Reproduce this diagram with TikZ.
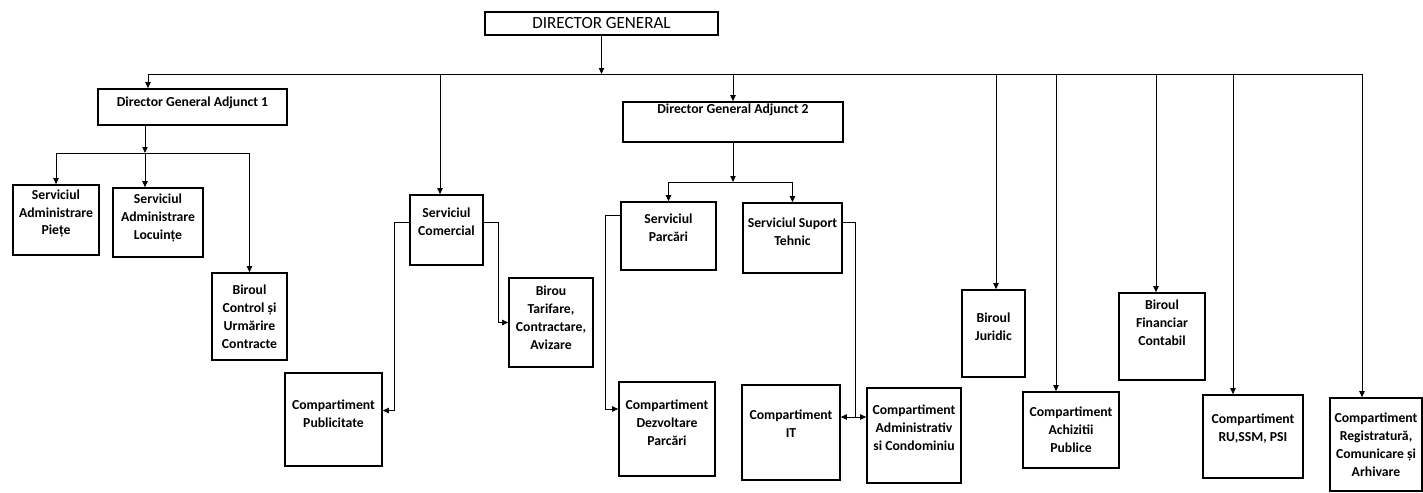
\documentclass[tikz,border=0pt]{standalone}
\usepackage{fontspec}
\setmainfont{Carlito}
\usetikzlibrary{arrows.meta}
\newlength\unitpx
\setlength\unitpx{0.02cm}
\newcommand\unitpad[1]{\endgraf\vspace*{#1}}
\begin{document}
\begin{tikzpicture}[x=0.02cm, y=-0.02cm,
    unit/.style={draw, line width=0.9pt, inner sep=0pt, align=flush center,
      font=\bfseries\fontsize{7.8}{10.2}\selectfont},
    dims/.style n args={3}{text width=#1\unitpx, minimum height=#2\unitpx,
      execute at end node={\unitpad{#3\unitpx}}},
    wire/.style={line width=0.55pt},
    link/.style={wire, -{Triangle[length=3.4pt,width=3pt]}}]
  \useasboundingbox (0,0) rectangle (1423,493);
  \draw
    (601.5,23.5) node[unit, dims={233}{23}{0}, font=\fontsize{9.7}{12}\selectfont] (dg) {DIRECTOR GENERAL}
    (192.5,107) node[unit, dims={189}{36}{8}] (dga1) {Director General Adjunct 1}
    (733,122) node[unit, dims={220}{40}{24}] (dga2) {Director General Adjunct 2}
    (56,220) node[unit, dims={86}{70}{13}] (piete) {Serviciul\\Administrare\\Piețe}
    (158,222.5) node[unit, dims={90}{69}{9}] (locuinte) {Serviciul\\Administrare\\Locuințe}
    (249.5,316.5) node[unit, dims={75}{87}{0}] (control) {Biroul\\Control și\\Urmărire\\Contracte}
    (446.5,230) node[unit, dims={73}{70}{16}] (comercial) {Serviciul\\Comercial}
    (551,322.5) node[unit, dims={84}{89}{10}] (tarifare) {Birou\\Tarifare,\\Contractare,\\Avizare}
    (333.5,419.5) node[unit, dims={97}{93}{11}] (publicitate) {Compartiment\\Publicitate}
    (668.5,236) node[unit, dims={95}{68}{16}] (parcari) {Serviciul\\Parcări}
    (792.5,238) node[unit, dims={99}{70}{12}] (suport) {Serviciul Suport\\Tehnic}
    (667,429) node[unit, dims={96}{94}{12}] (dezvoltare) {Compartiment\\Dezvoltare\\Parcări}
    (791,432.5) node[unit, dims={98}{95}{17}] (it) {Compartiment\\IT}
    (914,435.5) node[unit, dims={94}{95}{15}] (administrativ) {Compartiment\\Administrativ\\si Condominiu}
    (993.5,333.5) node[unit, dims={63}{87}{13}] (juridic) {Biroul\\Juridic}
    (1071,430) node[unit, dims={96}{76}{0}] (achizitii) {Compartiment\\Achizitii\\Publice}
    (1162,336.5) node[unit, dims={86}{87}{27}] (financiar) {Biroul\\Financiar\\Contabil}
    (1253,436.5) node[unit, dims={100}{83}{15}] (ru) {Compartiment\\RU,SSM, PSI}
    (1376,444.5) node[unit, dims={92}{93}{0}] (registratura) {Compartiment\\Registratură,\\Comunicare și\\Arhivare};
  \path
    (148,74) coordinate (tdga1)
    (440,74) coordinate (tcom)
    (733,74) coordinate (tdga2)
    (996,74) coordinate (tjur)
    (1056,74) coordinate (tach)
    (1156,74) coordinate (tfin)
    (1233,74) coordinate (tru)
    (1362,74) coordinate (treg)
    (145,153) coordinate (j1)
    (733,182) coordinate (j2)
    (855,417) coordinate (j3);
  \begin{scope}[wire]
    \draw (tdga1) -- (treg);
    \draw (j1 -| piete.north) -- (j1 -| control.north);
    \draw (j2 -| parcari.north) -- (j2 -| suport.north);
    \draw ([yshift=16\unitpx]suport.east) -| (j3);
  \end{scope}
  \begin{scope}[link]
    \draw (dg.south) -- (dg.south |- tdga1);
    \draw (tdga1) -- (tdga1 |- dga1.north);
    \draw (tcom) -- (tcom |- comercial.north);
    \draw (tdga2) -- (tdga2 |- dga2.north);
    \draw (tjur) -- (tjur |- juridic.north);
    \draw (tach) -- (tach |- achizitii.north);
    \draw (tfin) -- (tfin |- financiar.north);
    \draw (tru) -- (tru |- ru.north);
    \draw (treg) -- (treg |- registratura.north);
    \draw (dga1.south -| j1) -- (j1);
    \draw (j1 -| piete.north) -- (piete.north);
    \draw (j1) -- (j1 |- locuinte.north);
    \draw (j1 -| control.north) -- (control.north);
    \draw (dga2.south) -- (j2);
    \draw (j2 -| parcari.north) -- (parcari.north);
    \draw (j2 -| suport.north) -- (suport.north);
    \draw ([yshift=8\unitpx]comercial.west) -- ++(-15,0) |- ([yshift=9\unitpx]publicitate.east);
    \draw ([yshift=8\unitpx]comercial.east) -- ++(15,0) |- (tarifare.west);
    \draw ([yshift=21\unitpx]parcari.west) -- ++(-15,0) |- ([yshift=20\unitpx]dezvoltare.west);
    \draw (j3) -- (j3 -| it.east);
    \draw (j3) -- (j3 -| administrativ.west);
  \end{scope}
\end{tikzpicture}
\end{document}
